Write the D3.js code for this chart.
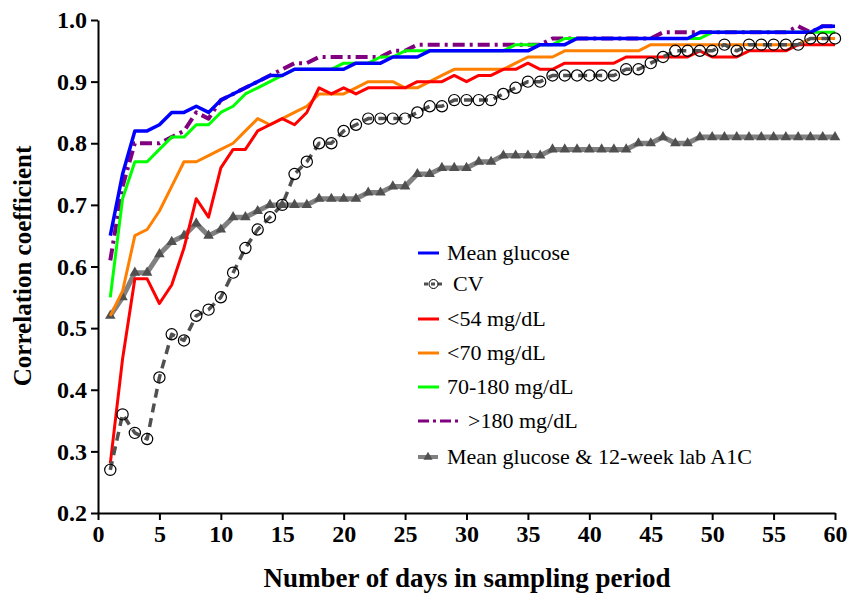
<!DOCTYPE html>
<html>
<head>
<meta charset="utf-8">
<script src="https://cdn.jsdelivr.net/npm/d3@7"></script>
<style>
  body { margin: 0; background: #fff; }
  svg { display: block; }
  text { font-family: "Liberation Serif", "Times New Roman", serif; }
</style>
</head>
<body>
<svg width="848" height="595"></svg>
<script>
// days 1..60
var days = d3.range(1, 61);

var meanGlucose = [0.65, 0.75, 0.82, 0.82, 0.83, 0.85, 0.85, 0.86, 0.85, 0.87,
  0.88, 0.89, 0.90, 0.91, 0.91, 0.92, 0.92, 0.92, 0.92, 0.92,
  0.93, 0.93, 0.93, 0.94, 0.94, 0.94, 0.95, 0.95, 0.95, 0.95,
  0.95, 0.95, 0.95, 0.95, 0.95, 0.96, 0.96, 0.96, 0.97, 0.97,
  0.97, 0.97, 0.97, 0.97, 0.97, 0.97, 0.97, 0.97, 0.98, 0.98,
  0.98, 0.98, 0.98, 0.98, 0.98, 0.98, 0.98, 0.98, 0.99, 0.99];

var cv = [0.27, 0.36, 0.33, 0.32, 0.42, 0.49, 0.48, 0.52, 0.53, 0.55,
  0.59, 0.63, 0.66, 0.68, 0.70, 0.75, 0.77, 0.80, 0.80, 0.82,
  0.83, 0.84, 0.84, 0.84, 0.84, 0.85, 0.86, 0.86, 0.87, 0.87,
  0.87, 0.87, 0.88, 0.89, 0.90, 0.90, 0.91, 0.91, 0.91, 0.91,
  0.91, 0.91, 0.92, 0.92, 0.93, 0.94, 0.95, 0.95, 0.95, 0.95,
  0.96, 0.95, 0.96, 0.96, 0.96, 0.96, 0.96, 0.97, 0.97, 0.97];

var below54 = [0.28, 0.45, 0.58, 0.58, 0.54, 0.57, 0.63, 0.71, 0.68, 0.76,
  0.79, 0.79, 0.82, 0.83, 0.84, 0.83, 0.85, 0.89, 0.88, 0.89,
  0.88, 0.89, 0.89, 0.89, 0.89, 0.90, 0.90, 0.90, 0.91, 0.90,
  0.91, 0.91, 0.92, 0.92, 0.93, 0.92, 0.92, 0.93, 0.93, 0.93,
  0.93, 0.93, 0.94, 0.94, 0.94, 0.94, 0.94, 0.94, 0.95, 0.94,
  0.94, 0.94, 0.95, 0.95, 0.95, 0.95, 0.96, 0.96, 0.96, 0.96];

var below70 = [0.52, 0.56, 0.65, 0.66, 0.69, 0.73, 0.77, 0.77, 0.78, 0.79,
  0.80, 0.82, 0.84, 0.83, 0.84, 0.85, 0.86, 0.88, 0.88, 0.88,
  0.89, 0.90, 0.90, 0.90, 0.89, 0.89, 0.90, 0.91, 0.92, 0.92,
  0.92, 0.92, 0.92, 0.93, 0.94, 0.94, 0.94, 0.95, 0.95, 0.95,
  0.95, 0.95, 0.95, 0.95, 0.96, 0.96, 0.96, 0.96, 0.96, 0.96,
  0.96, 0.96, 0.96, 0.96, 0.96, 0.96, 0.96, 0.97, 0.97, 0.97];

var inRange = [0.55, 0.71, 0.77, 0.77, 0.79, 0.81, 0.81, 0.83, 0.83, 0.85,
  0.86, 0.88, 0.89, 0.90, 0.91, 0.92, 0.92, 0.92, 0.92, 0.93,
  0.93, 0.93, 0.94, 0.94, 0.95, 0.95, 0.95, 0.95, 0.95, 0.95,
  0.95, 0.95, 0.95, 0.96, 0.96, 0.96, 0.96, 0.97, 0.97, 0.97,
  0.97, 0.97, 0.97, 0.97, 0.97, 0.97, 0.97, 0.97, 0.97, 0.98,
  0.98, 0.98, 0.98, 0.98, 0.98, 0.98, 0.98, 0.98, 0.98, 0.98];

var above180 = [0.61, 0.73, 0.80, 0.80, 0.80, 0.81, 0.82, 0.85, 0.84, 0.87,
  0.88, 0.89, 0.90, 0.91, 0.92, 0.93, 0.93, 0.94, 0.94, 0.94,
  0.94, 0.94, 0.94, 0.95, 0.95, 0.96, 0.96, 0.96, 0.96, 0.96,
  0.96, 0.96, 0.96, 0.96, 0.96, 0.96, 0.97, 0.97, 0.97, 0.97,
  0.97, 0.97, 0.97, 0.97, 0.97, 0.98, 0.98, 0.98, 0.98, 0.98,
  0.98, 0.98, 0.98, 0.98, 0.98, 0.98, 0.99, 0.98, 0.99, 0.99];

var labA1c = [0.52, 0.55, 0.59, 0.59, 0.62, 0.64, 0.65, 0.67, 0.65, 0.66,
  0.68, 0.68, 0.69, 0.70, 0.70, 0.70, 0.70, 0.71, 0.71, 0.71,
  0.71, 0.72, 0.72, 0.73, 0.73, 0.75, 0.75, 0.76, 0.76, 0.76,
  0.77, 0.77, 0.78, 0.78, 0.78, 0.78, 0.79, 0.79, 0.79, 0.79,
  0.79, 0.79, 0.79, 0.80, 0.80, 0.81, 0.80, 0.80, 0.81, 0.81,
  0.81, 0.81, 0.81, 0.81, 0.81, 0.81, 0.81, 0.81, 0.81, 0.81];

var xTicks = [0, 5, 10, 15, 20, 25, 30, 35, 40, 45, 50, 55, 60];
var yTicks = [0.2, 0.3, 0.4, 0.5, 0.6, 0.7, 0.8, 0.9, 1.0];

var svg = d3.select('svg');

var x = d3.scaleLinear().domain([0, 60]).range([98, 835]);
var y = d3.scaleLinear().domain([0.2, 1.0]).range([513, 20]);

var line = d3.line()
  .x(function(d) { return x(d[0]); })
  .y(function(d) { return y(d[1]); });

function pairs(vals) {
  return days.map(function(d, i) { return [d, vals[i]]; });
}

// series, drawn bottom to top
var series = [
  { name: 'Mean glucose & 12-week lab A1C', values: labA1c, color: '#808080', width: 5, marker: 'tri' },
  { name: '<70 mg/dL', values: below70, color: '#ff8000', width: 3 },
  { name: '<54 mg/dL', values: below54, color: '#ff0000', width: 3 },
  { name: '>180 mg/dL', values: above180, color: '#800080', width: 4, dash: '12,5,3,5' },
  { name: '70-180 mg/dL', values: inRange, color: '#00ff00', width: 3 },
  { name: 'Mean glucose', values: meanGlucose, color: '#0000ff', width: 3.5 },
  { name: 'CV', values: cv, color: '#505050', width: 3.5, dash: '9,6', marker: 'circle' }
];

var plot = svg.append('g');

series.forEach(function(s) {
  plot.append('path')
    .datum(pairs(s.values))
    .attr('fill', 'none')
    .attr('stroke', s.color)
    .attr('stroke-width', s.width)
    .attr('stroke-linejoin', 'round')
    .attr('stroke-dasharray', s.dash || null)
    .attr('d', line);

  if (s.marker === 'tri') {
    plot.selectAll(null)
      .data(pairs(s.values))
      .enter()
      .append('path')
      .attr('transform', function(d) { return 'translate(' + x(d[0]) + ',' + y(d[1]) + ')'; })
      .attr('d', d3.symbol().type(d3.symbolTriangle).size(48))
      .attr('fill', '#505050');
  }
  if (s.marker === 'circle') {
    plot.selectAll(null)
      .data(pairs(s.values))
      .enter()
      .append('circle')
      .attr('cx', function(d) { return x(d[0]); })
      .attr('cy', function(d) { return y(d[1]); })
      .attr('r', 5.6)
      .attr('fill', 'none')
      .attr('stroke', '#000')
      .attr('stroke-width', 1.2);
  }
});

// axes
var xAxis = svg.append('g')
  .attr('transform', 'translate(0,' + y(0.2) + ')')
  .call(d3.axisBottom(x).tickValues(xTicks).tickSize(7).tickSizeOuter(0).tickPadding(5));

var yAxis = svg.append('g')
  .attr('transform', 'translate(' + x(0) + ',0)')
  .call(d3.axisLeft(y).tickValues(yTicks).tickFormat(d3.format('.1f')).tickSize(7).tickSizeOuter(0).tickPadding(4));

[xAxis, yAxis].forEach(function(a) {
  a.selectAll('path, line').attr('stroke', '#000').attr('stroke-width', 2);
  a.selectAll('text')
    .attr('fill', '#000')
    .style('font-family', '"Liberation Serif", serif')
    .style('font-weight', 'bold')
    .style('font-size', '24px');
});

svg.append('text')
  .attr('x', 467)
  .attr('y', 587)
  .attr('text-anchor', 'middle')
  .style('font-weight', 'bold')
  .style('font-size', '27px')
  .text('Number of days in sampling period');

svg.append('text')
  .attr('transform', 'translate(31,266) rotate(-90)')
  .attr('text-anchor', 'middle')
  .style('font-weight', 'bold')
  .style('font-size', '25px')
  .text('Correlation coefficient');

// legend
var legendRows = [
  { s: 'Mean glucose', y: 253, x0: 418, x1: 439, tx: 447 },
  { s: 'CV', y: 284, x0: 424, x1: 443, tx: 453 },
  { s: '<54 mg/dL', y: 319, x0: 418, x1: 439, tx: 447 },
  { s: '<70 mg/dL', y: 353, x0: 418, x1: 439, tx: 447 },
  { s: '70-180 mg/dL', y: 387, x0: 418, x1: 439, tx: 447 },
  { s: '>180 mg/dL', y: 421, x0: 418, x1: 460, tx: 468 },
  { s: 'Mean glucose & 12-week lab A1C', y: 457, x0: 418, x1: 438, tx: 447 }
];

var legend = svg.append('g');
legendRows.forEach(function(r) {
  var s = series.filter(function(d) { return d.name === r.s; })[0];
  legend.append('line')
    .attr('x1', r.x0).attr('x2', r.x1)
    .attr('y1', r.y).attr('y2', r.y)
    .attr('stroke', s.color)
    .attr('stroke-width', s.name === 'Mean glucose & 12-week lab A1C' ? 4 : 3)
    .attr('stroke-dasharray', s.name === '>180 mg/dL' ? '11,4,3,4' : (s.name === 'CV' ? '4,3' : null));
  if (s.marker === 'circle') {
    legend.append('circle')
      .attr('cx', (r.x0 + r.x1) / 2).attr('cy', r.y).attr('r', 4.5)
      .attr('fill', 'none').attr('stroke', '#000').attr('stroke-width', 1);
  }
  if (s.marker === 'tri') {
    legend.append('path')
      .attr('transform', 'translate(' + (r.x0 + r.x1) / 2 + ',' + r.y + ')')
      .attr('d', d3.symbol().type(d3.symbolTriangle).size(36))
      .attr('fill', '#505050');
  }
  legend.append('text')
    .attr('x', r.tx)
    .attr('y', r.y + 7)
    .style('font-size', '22px')
    .attr('fill', '#000')
    .text(r.s);
});
</script>
</body>
</html>
